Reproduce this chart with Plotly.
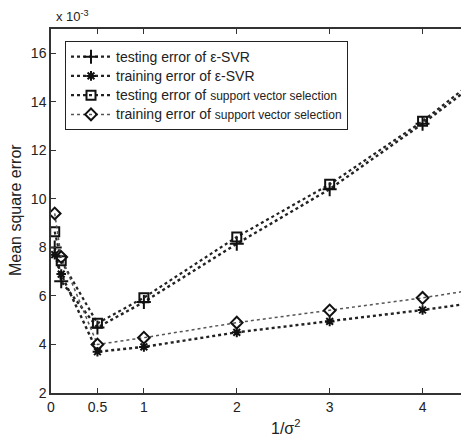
import plotly.graph_objects as go

x_vals = [0.04, 0.11, 0.5, 1, 2, 3, 4, 5]
test_esvr = [8.0, 6.6, 4.7, 5.75, 8.15, 10.4, 13.1, 16.0]
train_esvr = [7.7, 6.9, 3.7, 3.9, 4.5, 4.95, 5.42, 5.95]
test_svs = [8.65, 7.45, 4.87, 5.93, 8.43, 10.6, 13.2, 16.2]
train_svs = [9.4, 7.6, 4.0, 4.28, 4.9, 5.4, 5.92, 6.52]

x_ticks = [0, 0.5, 1, 2, 3, 4]
y_ticks = [2, 4, 6, 8, 10, 12, 14, 16]

FONT = "Liberation Sans, Arial, sans-serif"


def big(s):
    return "<span style='font-size:14px'>" + s + "</span>"


small = "<span style='font-size:12px'>support vector selection</span>"

series = [
    (big("testing error of ε-SVR"), test_esvr, "cross-thin", 10, "#222", 2.4),
    (big("training error of ε-SVR"), train_esvr, "asterisk", 8, "#222", 2.4),
    (big("testing error of ") + small, test_svs, "square-open", 9, "#222", 2.2),
    (big("training error of ") + small, train_svs, "diamond-open", 9, "#555", 1.5),
]

fig = go.Figure()
for name, ys, sym, sz, col, lw in series:
    fig.add_trace(go.Scatter(
        x=x_vals, y=ys, name=name, mode="lines+markers",
        line=dict(color=col, width=lw, dash="dot"),
        marker=dict(symbol=sym, size=sz, color="#111",
                    line=dict(color="#111", width=2)),
    ))

# page body has an 8px margin; figure sized to fit the 469x440 window
OFF = 8
W, H = 469 - OFF, 440 - OFF
L, R, T, B = 51 - OFF, 0, 29 - OFF, H - (393 - OFF)
PW = W - L - R
PH = H - T - B


def px(xp):
    return (xp - OFF - L) / PW


def py(yp):
    return (H - B - (yp - OFF)) / PH


fig.update_layout(
    width=W, height=H,
    margin=dict(l=L, r=R, t=T, b=B, autoexpand=False),
    paper_bgcolor="white", plot_bgcolor="white",
    font=dict(family=FONT, size=14, color="#222"),
    showlegend=True,
    legend=dict(x=px(65), y=py(41), xanchor="left", yanchor="top",
                bordercolor="#222", borderwidth=1, bgcolor="white",
                font=dict(size=12.5, family=FONT), tracegroupgap=0,
                itemwidth=40),
    xaxis=dict(range=[0, 4.5], tickvals=x_ticks, ticktext=[str(v) for v in x_ticks],
               showgrid=False, zeroline=False, showline=True, linecolor="#333",
               linewidth=1.5, mirror="ticks", ticks="inside", ticklen=5,
               tickcolor="#333", tickfont=dict(size=14), automargin=False),
    yaxis=dict(range=[2, 17], tickvals=y_ticks, showgrid=False, zeroline=False,
               showline=True, linecolor="#333", linewidth=1.5, mirror="ticks",
               ticks="inside", ticklen=5, tickcolor="#333",
               tickfont=dict(size=14), automargin=False),
    annotations=[
        dict(text="x 10<sup>-3</sup>", xref="paper", yref="paper", x=px(54), y=1.0,
             xanchor="left", yanchor="bottom", showarrow=False,
             font=dict(size=13), yshift=3),
        dict(text="1/σ<sup>2</sup>", xref="paper", yref="paper",
             x=px(285), y=0, xanchor="center", yanchor="top",
             showarrow=False, font=dict(size=16), yshift=-22),
        dict(text="Mean square error", xref="paper", yref="paper",
             x=0, y=py(210), xanchor="center", yanchor="middle",
             textangle=-90, showarrow=False, font=dict(size=16),
             xshift=-(51 - 15)),
    ],
)

fig.write_html("out.html")
